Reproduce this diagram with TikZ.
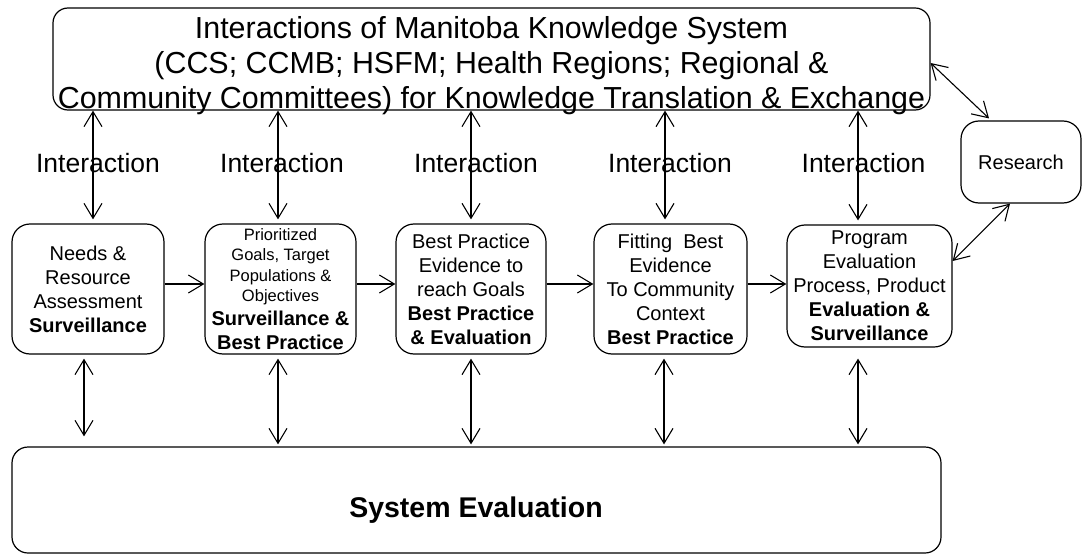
\documentclass[tikz,border=0pt]{standalone}
\usepackage{fontspec}
\setmainfont{Liberation Sans}
\usetikzlibrary{arrows.meta}
\begin{document}
\begin{tikzpicture}[x=1pt,y=-1pt,
  box/.style={draw, line width=1.2pt, rounded corners=18pt, align=center, inner sep=0pt, fill=white},
  dbl/.style={line width=1.1pt, {Straight Barb[length=15pt,width=18pt]}-{Straight Barb[length=15pt,width=18pt]}},
  sgl/.style={line width=1.1pt, -{Straight Barb[length=15pt,width=18pt]}},
  lab/.style={font=\fontsize{26.5}{30}\selectfont, inner sep=0pt},
  bt/.style={font=\fontsize{20}{24}\selectfont},
  sm/.style={font=\fontsize{16.5}{20.5}\selectfont}]
\useasboundingbox (0,0) rectangle (1083,556);

% boxes
\node[box, rounded corners=15pt, minimum width=877pt, minimum height=102pt] (top) at (491.5,59) {};
\node[align=center, inner sep=0pt, font=\fontsize{30.4}{35}\selectfont] (toptext) at (491.5,66)
  {Interactions of Manitoba Knowledge System\\(CCS; CCMB; HSFM; Health Regions; Regional \&\\Community Committees) for Knowledge Translation \& Exchange};

\node[box, minimum width=120pt, minimum height=82pt, bt] (res) at (1021,162) {Research};

\node[box, minimum width=152pt, minimum height=130pt, bt] (b1) at (88,289)
  {Needs \&\\Resource\\Assessment\\\textbf{Surveillance}};
\node[box, minimum width=151pt, minimum height=130pt, sm] (b2) at (280.5,289)
  {Prioritized\\Goals, Target\\Populations \&\\Objectives\\[3.5pt]{\fontsize{20}{24}\selectfont\bfseries Surveillance \&}\\[3.5pt]{\fontsize{20}{24}\selectfont\bfseries Best Practice}};
\node[box, minimum width=150pt, minimum height=130pt, bt] (b3) at (471,289)
  {Best Practice\\Evidence to\\reach Goals\\\textbf{Best Practice}\\\textbf{\& Evaluation}};
\node[box, minimum width=153pt, minimum height=130pt, bt] (b4) at (670.5,289)
  {Fitting\ \ Best\\Evidence\\To Community\\Context\\\textbf{Best Practice}};
\node[box, minimum width=165pt, minimum height=122pt, bt] (b5) at (869.5,286)
  {Program\\Evaluation\\Process, Product\\\textbf{Evaluation \&}\\\textbf{Surveillance}};

\node[box, rounded corners=16pt, minimum width=929pt, minimum height=106pt] (sys) at (476.5,500) {};
\node[inner sep=0pt, font=\fontsize{28.5}{32}\selectfont\bfseries] (systext) at (476,510) {System Evaluation};

% horizontal flow
\draw[sgl] ([yshift=5pt]b1.east) -- ([yshift=5pt]b2.west);
\draw[sgl] ([yshift=5pt]b2.east) -- ([yshift=5pt]b3.west);
\draw[sgl] ([yshift=5pt]b3.east) -- ([yshift=5pt]b4.west);
\draw[sgl] ([yshift=5pt]b4.east) -- ([yshift=2pt]b5.west);

% top interactions
\draw[dbl] ([xshift=5pt]b1.north |- top.south) -- ([xshift=5pt,yshift=4pt]b1.north);
\draw[dbl] ([xshift=-2.5pt]b2.north |- top.south) -- ([xshift=-2.5pt,yshift=4pt]b2.north);
\draw[dbl] (b3.north |- top.south) -- ([yshift=4pt]b3.north);
\draw[dbl] ([xshift=-5.5pt]b4.north |- top.south) -- ([xshift=-5.5pt,yshift=4pt]b4.north);
\draw[dbl] ([xshift=-11.5pt]b5.north |- top.south) -- ([xshift=-11.5pt,yshift=4pt]b5.north);

% bottom to system evaluation
\draw[dbl] ([xshift=-4pt,yshift=-4pt]b1.south) -- ([xshift=-4pt,yshift=10pt]b1.south |- sys.north);
\draw[dbl] ([xshift=-2.5pt,yshift=-4pt]b2.south) -- ([xshift=-2.5pt,yshift=2pt]b2.south |- sys.north);
\draw[dbl] ([yshift=-4pt]b3.south) -- ([yshift=2pt]b3.south |- sys.north);
\draw[dbl] ([xshift=-6.5pt,yshift=-4pt]b4.south) -- ([xshift=-6.5pt,yshift=2pt]b4.south |- sys.north);
\draw[dbl] ([xshift=-11.5pt,yshift=-11pt]b5.south) -- ([xshift=-11.5pt,yshift=2pt]b5.south |- sys.north);

% research
\draw[dbl] ([yshift=-4pt]top.east) -- ([xshift=-32pt,yshift=2pt]res.north);
\draw[dbl] ([yshift=25pt]b5.east) -- ([xshift=-11pt]res.south);

% labels
\node[lab] (i1) at (98,163) {Interaction};
\node[lab] (i2) at (282,163) {Interaction};
\node[lab] (i3) at (476,163) {Interaction};
\node[lab] (i4) at (670,163) {Interaction};
\node[lab] (i5) at (863.5,163) {Interaction};
\end{tikzpicture}
\end{document}
